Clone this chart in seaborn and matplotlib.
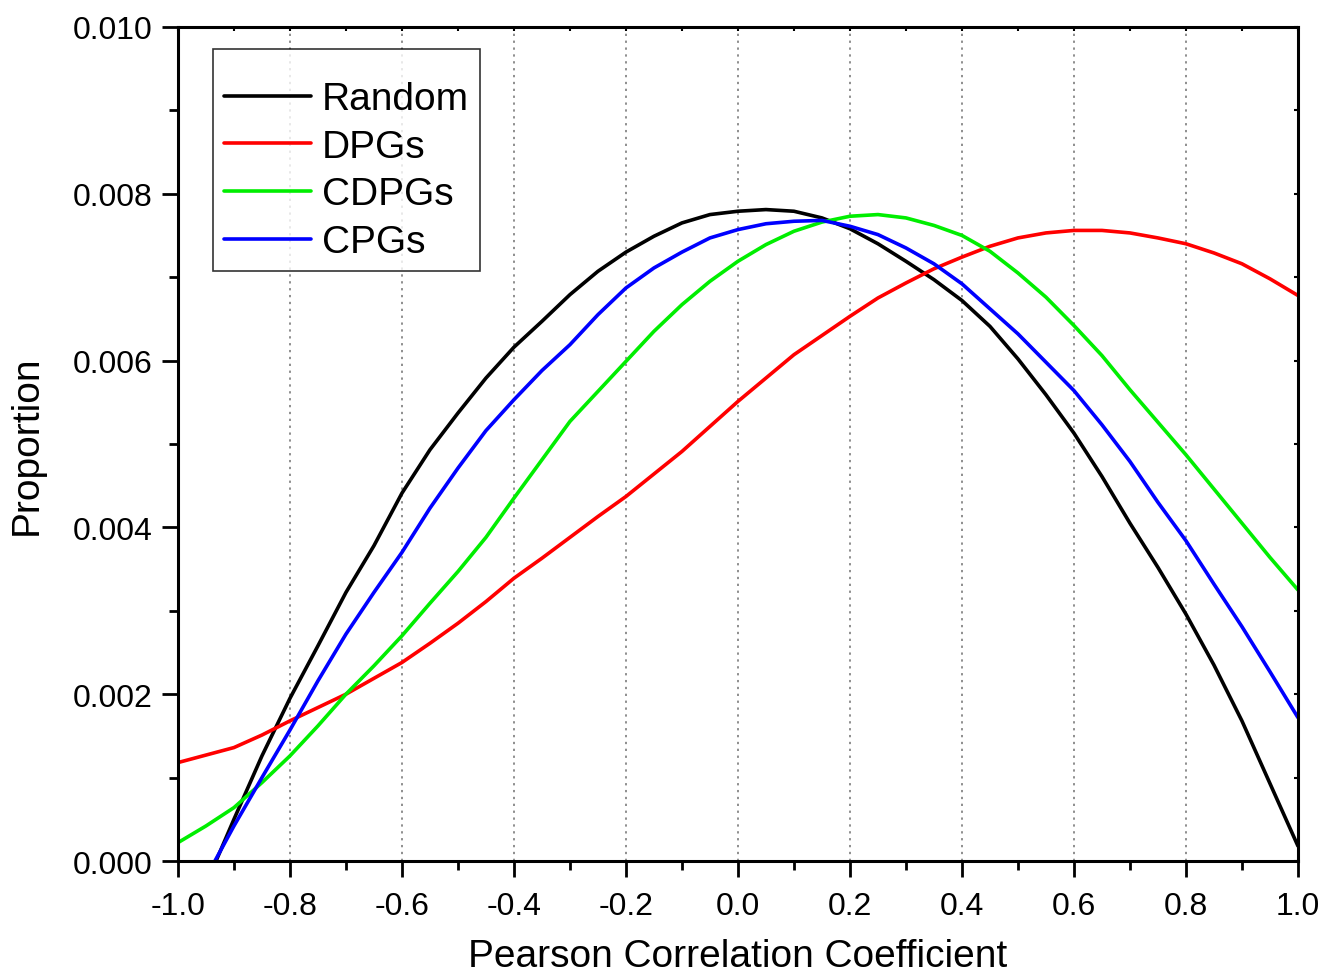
import numpy as np
import pandas as pd
import matplotlib
matplotlib.use('Agg')
import matplotlib.pyplot as plt
from matplotlib.ticker import MultipleLocator, FormatStrFormatter
import seaborn as sns

# -----------------------------
# DATA
# -----------------------------

series_names = ['Random', 'DPGs', 'CDPGs', 'CPGs']

# sample positions on the x axis
x_grid = [-1.0, -0.95, -0.9, -0.85, -0.8, -0.75, -0.7, -0.65, -0.6, -0.55,
          -0.5, -0.45, -0.4, -0.35, -0.3, -0.25, -0.2, -0.15, -0.1, -0.05,
          0.0, 0.05, 0.1, 0.15, 0.2, 0.25, 0.3, 0.35, 0.4, 0.45,
          0.5, 0.55, 0.6, 0.65, 0.7, 0.75, 0.8, 0.85, 0.9, 0.95, 1.0]

# Random and CPGs start at the zero line near -0.93
random_x = [-0.932] + x_grid[2:]
random_y = [0.0, 0.0005, 0.00126, 0.00195, 0.00258, 0.00322, 0.00378, 0.00441,
            0.00493, 0.00537, 0.00579, 0.00616, 0.00647, 0.00679, 0.00707,
            0.0073, 0.00749, 0.00765, 0.00775, 0.00779, 0.00781, 0.00779,
            0.00771, 0.00758, 0.0074, 0.00719, 0.00697, 0.00672, 0.00641,
            0.00602, 0.00559, 0.00513, 0.00461, 0.00405, 0.00352, 0.00296,
            0.00235, 0.00168, 0.00093, 0.00018]

dpgs_x = x_grid
dpgs_y = [0.00118, 0.00127, 0.00136, 0.00151, 0.00168, 0.00184, 0.002, 0.00219,
          0.00238, 0.00261, 0.00285, 0.00311, 0.00339, 0.00363, 0.00388,
          0.00413, 0.00437, 0.00464, 0.00491, 0.00521, 0.00551, 0.00579,
          0.00607, 0.0063, 0.00653, 0.00675, 0.00693, 0.0071, 0.00724, 0.00737,
          0.00747, 0.00753, 0.00756, 0.00756, 0.00753, 0.00747, 0.0074,
          0.00729, 0.00716, 0.00698, 0.00678]

cdpgs_x = x_grid
cdpgs_y = [0.00022, 0.00042, 0.00064, 0.00094, 0.00126, 0.00162, 0.002,
           0.00234, 0.0027, 0.00309, 0.00347, 0.00388, 0.00435, 0.00481,
           0.00527, 0.00563, 0.00599, 0.00635, 0.00667, 0.00695, 0.00719,
           0.00739, 0.00755, 0.00766, 0.00773, 0.00775, 0.00771, 0.00762,
           0.0075, 0.00731, 0.00705, 0.00676, 0.00642, 0.00606, 0.00565,
           0.00526, 0.00487, 0.00446, 0.00405, 0.00364, 0.00325]

cpgs_x = [-0.934] + x_grid[2:]
cpgs_y = [0.0, 0.00042, 0.001, 0.00157, 0.00216, 0.00272, 0.00322, 0.0037,
          0.00423, 0.00471, 0.00516, 0.00553, 0.00588, 0.00619, 0.00655,
          0.00687, 0.00711, 0.0073, 0.00747, 0.00757, 0.00764, 0.00767,
          0.00768, 0.00761, 0.00751, 0.00735, 0.00716, 0.00692, 0.00662,
          0.00632, 0.00598, 0.00564, 0.00523, 0.00479, 0.0043, 0.00384,
          0.00332, 0.00281, 0.00227, 0.00172]

colors = ['#000000', '#ff0000', '#00ee00', '#0000ff']

# long format table for seaborn
frames = []
for name, xs, ys in zip(series_names,
                        [random_x, dpgs_x, cdpgs_x, cpgs_x],
                        [random_y, dpgs_y, cdpgs_y, cpgs_y]):
    frames.append(pd.DataFrame({'x': xs, 'y': ys, 'series': name}))
df = pd.concat(frames, ignore_index=True)

# -----------------------------
# STYLE
# -----------------------------

sns.set_style('ticks')
plt.rcParams['font.family'] = ['Liberation Sans', 'DejaVu Sans']
plt.rcParams['axes.unicode_minus'] = False
plt.rcParams['text.color'] = 'black'
plt.rcParams['axes.labelcolor'] = 'black'
plt.rcParams['xtick.color'] = 'black'
plt.rcParams['ytick.color'] = 'black'

fig = plt.figure(figsize=(13.22, 9.79), dpi=100)
ax = fig.add_axes([0.1346, 0.1195, 0.8472, 0.852])

sns.lineplot(data=df, x='x', y='y', hue='series', hue_order=series_names,
             palette=colors, linewidth=2.6, sort=False, estimator=None,
             ax=ax, legend=False)

ax.set_xlim(-1.0, 1.0)
ax.set_ylim(0.0, 0.010)

ax.xaxis.set_major_locator(MultipleLocator(0.2))
ax.xaxis.set_minor_locator(MultipleLocator(0.1))
ax.yaxis.set_major_locator(MultipleLocator(0.002))
ax.yaxis.set_minor_locator(MultipleLocator(0.001))
ax.xaxis.set_major_formatter(FormatStrFormatter('%.1f'))
ax.yaxis.set_major_formatter(FormatStrFormatter('%.3f'))

ax.tick_params(which='major', direction='out', length=11.5, width=2,
               labelsize=23, colors='black', pad=7)
ax.tick_params(axis='x', which='major', pad=10)
ax.tick_params(which='minor', direction='out', length=6.5, width=2)

for side in ['left', 'bottom', 'top', 'right']:
    ax.spines[side].set_linewidth(2.2)
    ax.spines[side].set_color('black')

# small inward ticks on top and right
top = ax.secondary_xaxis('top')
top.xaxis.set_major_locator(MultipleLocator(0.1))
top.tick_params(direction='in', length=3, width=1.5, labeltop=False)
right = ax.secondary_yaxis('right')
right.yaxis.set_major_locator(MultipleLocator(0.001))
right.tick_params(direction='in', length=3, width=1.5, labelright=False)

# dotted vertical grid
ax.grid(False)
for gx in np.arange(-0.8, 0.81, 0.2):
    ax.axvline(gx, color='#707070', linestyle=(0, (1.5, 3)), linewidth=1.1,
               zorder=0)

ax.set_xlabel('Pearson Correlation Coefficient', fontsize=28, labelpad=12)
ax.set_ylabel('Proportion', fontsize=28, labelpad=20)

# legend (blank small title only adds room above the first row)
handles = [plt.Line2D([], [], color=c, linewidth=2.6) for c in colors]
leg = ax.legend(handles, series_names, loc='upper left',
                bbox_to_anchor=(0.031, 0.974), fontsize=28, frameon=True,
                fancybox=False, edgecolor='black', handlelength=2.25,
                handletextpad=0.28, labelspacing=0.3, borderpad=0.28,
                borderaxespad=0.0, title=' ', title_fontsize=7)
leg.get_frame().set_linewidth(1.2)

fig.savefig('out.png', dpi=100)
plt.close(fig)
